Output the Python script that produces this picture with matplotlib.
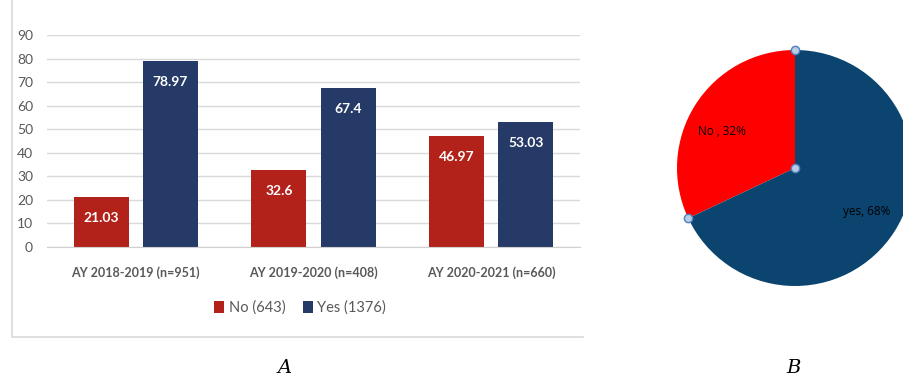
import numpy as np
import matplotlib.pyplot as plt
from matplotlib.lines import Line2D

# bar chart data (A)
years = ['AY 2018-2019 (n=951)', 'AY 2019-2020 (n=408)', 'AY 2020-2021 (n=660)']
no_pct = [21.03, 32.6, 46.97]
yes_pct = [78.97, 67.4, 53.03]
legend_labels = ['No (643)', 'Yes (1376)']

# pie chart data (B)
pie_labels = ['No , 32%', 'yes, 68%']
pie_vals = [32, 68]

red = '#b3221a'
navy = '#253a66'
grey = '#595959'
plt.rcParams['font.family'] = ['Lato', 'DejaVu Sans']

fig = plt.figure(figsize=(9.04, 3.79), dpi=100)
W, H = 904, 379

# light frame (left and bottom edges only) around panel A
fig.lines.append(Line2D([12 / W, 12 / W, 583 / W], [1.0, 1 - 337 / H, 1 - 337 / H],
                        transform=fig.transFigure, color='#d9d9d9', lw=1.2))

ax = fig.add_axes([47 / W, 1 - 247 / H, (580 - 47) / W, 212 / H])
x = np.arange(len(years))
w = 0.31
b1 = ax.bar(x - 0.195, no_pct, w, color=red, label=legend_labels[0])
b2 = ax.bar(x + 0.195, yes_pct, w, color=navy, label=legend_labels[1])
for bars, vals in [(b1, no_pct), (b2, yes_pct)]:
    for r, v in zip(bars, vals):
        ax.annotate(f'{v:g}', (r.get_x() + r.get_width() / 2, v),
                    xytext=(0, -21), textcoords='offset pixels',
                    ha='center', va='center', color='white',
                    fontsize=10, fontweight='bold')

ax.set_xlim(-0.5, 2.5)
ax.set_ylim(0, 90)
ax.set_yticks(range(0, 91, 10))
ax.set_xticks(x)
ax.set_xticklabels(years, fontsize=9, color=grey, fontweight='bold')
ax.tick_params(axis='y', labelsize=10, labelcolor=grey, length=0, pad=10)
ax.tick_params(axis='x', length=0, pad=14)
ax.yaxis.grid(True, color='#d9d9d9', lw=1)
ax.set_axisbelow(True)
for s in ['top', 'right', 'left']:
    ax.spines[s].set_visible(False)
ax.spines['bottom'].set_color('#d0d0d0')

fig.legend(handles=[b1, b2], loc='center', bbox_to_anchor=(300 / W, 1 - 308 / H),
           ncol=2, frameon=False, fontsize=10.5, labelcolor=grey,
           handlelength=0.7, handleheight=0.9, handletextpad=0.3, columnspacing=1.2)

# pie chart
pax = fig.add_axes([677 / W, 1 - 286 / H, 236 / W, 236 / H])
wedges, texts = pax.pie(pie_vals, colors=['#ff0000', '#0b446f'], startangle=90,
                        counterclock=True, labels=pie_labels, labeldistance=None)
pax.set_xlim(-1, 1)
pax.set_ylim(-1, 1)
pax.text(-0.62, 0.31, pie_labels[0], fontsize=8.5, ha='center', va='center',
         family=['Open Sans', 'DejaVu Sans'])
pax.text(0.61, -0.37, pie_labels[1], fontsize=8.5, ha='center', va='center',
         family=['Open Sans', 'DejaVu Sans'])
# selection handles at wedge edges and centre
ang = np.deg2rad([90, 90 + 360 * pie_vals[0] / sum(pie_vals)])
pax.plot(np.r_[np.cos(ang), 0], np.r_[np.sin(ang), 0], 'o', ms=6,
         mfc='#b8cce4', mec='#4f81bd', mew=1, clip_on=False)
pax.axis('off')

fig.text(285 / W, 1 - 368 / H, 'A', fontsize=14, style='italic',
         family='DejaVu Serif', ha='center', va='center')
fig.text(793 / W, 1 - 368 / H, 'B', fontsize=14, style='italic',
         family='DejaVu Serif', ha='center', va='center')

fig.savefig('out.png', dpi=100)
